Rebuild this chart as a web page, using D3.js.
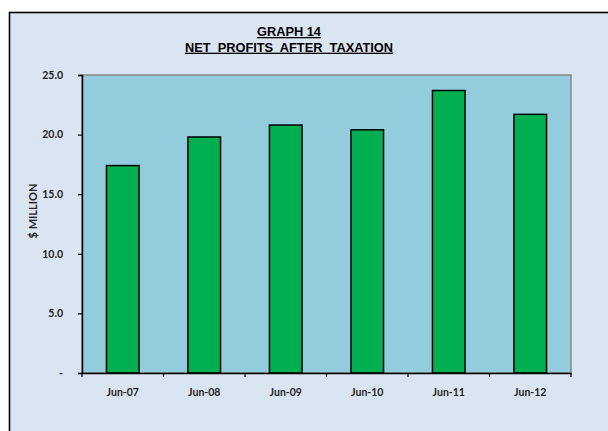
<!DOCTYPE html>
<html><head><meta charset="utf-8">
<script src="https://cdn.jsdelivr.net/npm/d3@7"></script>
<style>body{margin:0;background:#fff}svg{display:block}</style>
</head><body>
<script>
const categories = ["Jun-07","Jun-08","Jun-09","Jun-10","Jun-11","Jun-12"];
const values = [17.4, 19.8, 20.8, 20.4, 23.7, 21.7];
const yTicks = [0, 5, 10, 15, 20, 25];
const yTickLabels = ["-", "5.0", "10.0", "15.0", "20.0", "25.0"];
const titleLines = ["GRAPH 14", "NET  PROFITS  AFTER  TAXATION"];
const yTitle = "$ MILLION";

const W = 608, H = 431;
const svg = d3.select("body").append("svg").attr("width", W).attr("height", H);

svg.append("rect").attr("x", 9.5).attr("y", 12.5).attr("width", 700).attr("height", 500)
  .attr("fill", "#dbe5f1").attr("stroke", "#000").attr("stroke-width", 1.6);

const L = 82, R = 571, T = 75, B = 373;
const x = d3.scaleBand().domain(categories).range([L, R]).paddingInner(0.6).paddingOuter(0.3);
const y = d3.scaleLinear().domain([0, 25]).range([B, T]);

svg.append("rect").attr("x", L).attr("y", T).attr("width", R - L).attr("height", B - T)
  .attr("fill", "#93cddd").attr("stroke", "#868686").attr("stroke-width", 1.5);

svg.selectAll("rect.bar").data(values).join("rect").attr("class", "bar")
  .attr("x", (d, i) => x(categories[i]))
  .attr("y", d => y(d))
  .attr("width", x.bandwidth())
  .attr("height", d => y(0) - y(d))
  .attr("fill", "#00b050").attr("stroke", "#000").attr("stroke-width", 1.5);

const labFont = "Lato, 'Open Sans', sans-serif";
const yAxis = d3.axisLeft(y).tickValues(yTicks).tickSize(4).tickPadding(15)
  .tickFormat((d, i) => yTickLabels[i]);
const gy = svg.append("g").attr("transform", `translate(${L},0)`).call(yAxis);
gy.select(".domain").attr("stroke", "#000").attr("stroke-width", 1.5);
gy.selectAll(".tick line").attr("stroke", "#000").attr("stroke-width", 1.2);
gy.selectAll(".tick text").attr("font-family", labFont).attr("font-size", 10.5)
  .attr("font-weight", "bold").attr("fill", "#222");

const xAxis = d3.axisBottom(x).tickSize(0).tickPadding(16);
const gx = svg.append("g").attr("transform", `translate(0,${B})`).call(xAxis);
gx.select(".domain").attr("stroke", "#000").attr("stroke-width", 1.5);
gx.selectAll(".tick text").attr("font-family", labFont).attr("font-size", 10.5)
  .attr("font-weight", "bold").attr("fill", "#222");
const bounds = d3.range(categories.length + 1).map(i => L + i * x.step());
gx.selectAll("line.bt").data(bounds).join("line").attr("class", "bt")
  .attr("x1", d => d).attr("x2", d => d).attr("y1", 0).attr("y2", 4)
  .attr("stroke", "#000").attr("stroke-width", 1.2);

const cx = 289;
titleLines.forEach((t, i) => {
  svg.append("text").attr("x", cx).attr("y", 36 + i * 15.7)
    .attr("text-anchor", "middle").attr("font-family", "'Liberation Sans', Arial, sans-serif")
    .attr("font-weight", "bold").attr("font-size", 12.8).attr("fill", "#000")
    .attr("text-decoration", "underline").style("white-space", "pre").text(t);
});

svg.append("text").attr("transform", `translate(37,211) rotate(-90)`)
  .attr("text-anchor", "middle").attr("font-family", labFont)
  .attr("font-weight", "bold").attr("font-size", 11).attr("fill", "#222").text(yTitle);
</script>
</body></html>
